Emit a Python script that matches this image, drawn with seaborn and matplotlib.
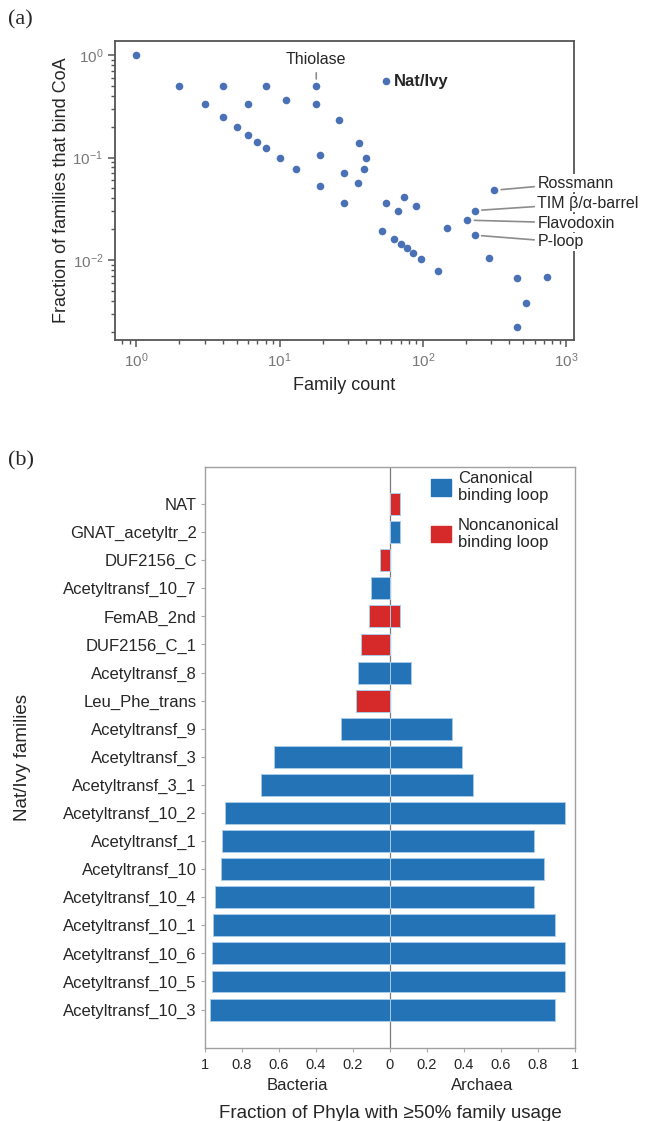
import pandas as pd
import matplotlib
matplotlib.use("Agg")
import matplotlib.pyplot as plt
import seaborn as sns
from matplotlib.patches import Patch
from matplotlib.ticker import FixedLocator, FixedFormatter

# === DATA ===
# panel (a): domain families, number of families vs fraction binding CoA
family_count = [1, 2, 4, 8, 18, 3, 6, 11, 18, 4, 5, 6, 7, 8, 10, 13, 19, 19,
                55, 26, 36, 40, 39, 28, 35, 28, 55, 74, 67, 89, 52, 63, 70,
                77, 85, 97, 127, 146, 314, 230, 204, 229, 287, 450, 731, 522, 450]
frac_coa = [1.0, 0.5, 0.5, 0.5, 0.5, 0.333, 0.333, 0.364, 0.333, 0.25, 0.2,
            0.167, 0.143, 0.125, 0.1, 0.077, 0.105, 0.053,
            0.564, 0.231, 0.139, 0.1, 0.077, 0.071, 0.057, 0.036, 0.036, 0.041,
            0.030, 0.034, 0.0192, 0.0159, 0.0143, 0.013, 0.0118, 0.0103,
            0.0079, 0.0205, 0.048, 0.0304, 0.0245, 0.0175, 0.0105, 0.0067,
            0.0068, 0.0038, 0.0022]

# labelled folds (right side)
fold_names = ["Rossmann", "TIM \u03b2/\u03b1-barrel", "Flavodoxin", "P-loop"]
fold_count = [314, 230, 204, 229]
fold_frac = [0.048, 0.0304, 0.0245, 0.0175]

# panel (b): Nat/Ivy families
families = ["NAT", "GNAT_acetyltr_2", "DUF2156_C", "Acetyltransf_10_7",
            "FemAB_2nd", "DUF2156_C_1", "Acetyltransf_8", "Leu_Phe_trans",
            "Acetyltransf_9", "Acetyltransf_3", "Acetyltransf_3_1",
            "Acetyltransf_10_2", "Acetyltransf_1", "Acetyltransf_10",
            "Acetyltransf_10_4", "Acetyltransf_10_1", "Acetyltransf_10_6",
            "Acetyltransf_10_5", "Acetyltransf_10_3"]
bacteria = [0.0, 0.0, 0.054, 0.105, 0.114, 0.159, 0.174, 0.182, 0.264, 0.626,
            0.695, 0.893, 0.909, 0.916, 0.947, 0.956, 0.962, 0.962, 0.971]
archaea = [0.055, 0.055, 0.0, 0.0, 0.055, 0.0, 0.114, 0.0, 0.335, 0.388,
           0.446, 0.946, 0.779, 0.835, 0.779, 0.891, 0.946, 0.946, 0.891]
loop = ["Noncanonical", "Canonical", "Noncanonical", "Canonical",
        "Noncanonical", "Noncanonical", "Canonical", "Noncanonical"] + ["Canonical"] * 11

loop_colors = {"Canonical": "#2473b6", "Noncanonical": "#d62a2a"}

# === STYLE ===
sns.set_style("white")
plt.rcParams["font.family"] = ["Liberation Sans", "DejaVu Sans"]
plt.rcParams["mathtext.default"] = "regular"

fig = plt.figure(figsize=(6.46, 11.21), dpi=100)

# === PANEL (a) ===
ax1 = fig.add_axes([0.178, 0.6967, 0.7105, 0.2667])
df_a = pd.DataFrame({"count": family_count, "frac": frac_coa})
sns.scatterplot(data=df_a, x="count", y="frac", ax=ax1, color="#4a71b5",
                s=30, linewidth=0, zorder=3)
ax1.set_xscale("log")
ax1.set_yscale("log")
ax1.set_xlim(0.71, 1130)
ax1.set_ylim(0.00166, 1.37)
ax1.set_xlabel("Family count", fontsize=13, labelpad=5)
ax1.set_ylabel("Fraction of families that bind CoA", fontsize=13, labelpad=1.5)
for sp in ax1.spines.values():
    sp.set_color("#555555")
    sp.set_linewidth(1.3)
ax1.tick_params(axis="both", which="major", direction="out", length=5,
                width=1.1, color="#555555", labelcolor="#777777", labelsize=11)
ax1.tick_params(axis="both", which="minor", direction="out", length=3,
                width=1.0, color="#555555")
ax1.tick_params(axis="x", which="both", bottom=True)
ax1.tick_params(axis="y", which="both", left=True)

line_kw = dict(arrowstyle="-", color="#8c8c8c", lw=1.2, shrinkA=1, shrinkB=5)
ax1.annotate("Thiolase", xy=(18, 0.5), xytext=(18, 0.91), textcoords="data",
             ha="center", va="center", fontsize=11.5,
             arrowprops=dict(line_kw, shrinkA=2, shrinkB=5))
ax1.annotate("Nat/Ivy", xy=(55, 0.564), xytext=(6, -1), textcoords="offset points",
             ha="left", va="center", fontsize=12, fontweight="bold")
label_y = [0.525, 0.458, 0.391, 0.328]
for name, cx, cy, ly in zip(fold_names, fold_count, fold_frac, label_y):
    ax1.annotate(name, xy=(cx, cy), xytext=(0.92, ly), textcoords="axes fraction",
                 ha="left", va="center", fontsize=11.5, zorder=5,
                 bbox=dict(boxstyle="square,pad=0.1", fc="white", ec="none"),
                 arrowprops=line_kw, annotation_clip=False)

fig.text(0.012, 0.982, "(a)", fontsize=16, family="Liberation Serif", va="center")

# === PANEL (b) ===
ax2 = fig.add_axes([0.3173, 0.0651, 0.5728, 0.5183])
df_b = pd.DataFrame({"family": families, "bacteria": [-v for v in bacteria],
                     "archaea": archaea, "loop": loop})
bar_kw = dict(y="family", hue="loop", order=families, palette=loop_colors,
              dodge=False, width=0.78, errorbar=None, legend=False,
              saturation=1, linewidth=0.7, edgecolor="#a8cbe9", ax=ax2)
ax2.axvline(0, color="#7a7a7a", lw=0.9, zorder=0.5)
sns.barplot(data=df_b, x="bacteria", **bar_kw)
sns.barplot(data=df_b, x="archaea", **bar_kw)
ax2.set_xlim(-1, 1)
ax2.set_ylim(len(families) - 1 + 1.37, -1.32)

xt = [-1, -0.8, -0.6, -0.4, -0.2, 0, 0.2, 0.4, 0.6, 0.8, 1]
ax2.xaxis.set_major_locator(FixedLocator(xt))
ax2.xaxis.set_major_formatter(FixedFormatter(["1", "0.8", "0.6", "0.4", "0.2", "0",
                                              "0.2", "0.4", "0.6", "0.8", "1"]))
ax2.tick_params(axis="x", direction="out", length=3, color="#aaaaaa",
                labelsize=10.5, pad=4, bottom=True)
ax2.tick_params(axis="y", direction="out", length=3, color="#aaaaaa",
                labelsize=12, pad=3, left=True)
for sp in ax2.spines.values():
    sp.set_color("#a0a0a0")
    sp.set_linewidth(1.0)
ax2.set_ylabel("Nat/Ivy families", fontsize=13.5, labelpad=23)
ax2.set_xlabel("Fraction of Phyla with \u226550% family usage", fontsize=13.5,
               labelpad=24)
ax2.text(-0.5, -0.065, "Bacteria", transform=ax2.get_xaxis_transform(),
         ha="center", va="center", fontsize=12)
ax2.text(0.5, -0.065, "Archaea", transform=ax2.get_xaxis_transform(),
         ha="center", va="center", fontsize=12)

handles = [Patch(color=loop_colors["Canonical"], label="Canonical\nbinding loop"),
           Patch(color=loop_colors["Noncanonical"], label="Noncanonical\nbinding loop")]
ax2.legend(handles=handles, loc="upper left", bbox_to_anchor=(0.612, 0.993),
           frameon=False, fontsize=12, handlelength=1.15, handleheight=1.15,
           handletextpad=0.45, labelspacing=0.85, borderpad=0, borderaxespad=0)

fig.text(0.012, 0.589, "(b)", fontsize=16, family="Liberation Serif", va="center")

fig.savefig("out.png", dpi=100)
